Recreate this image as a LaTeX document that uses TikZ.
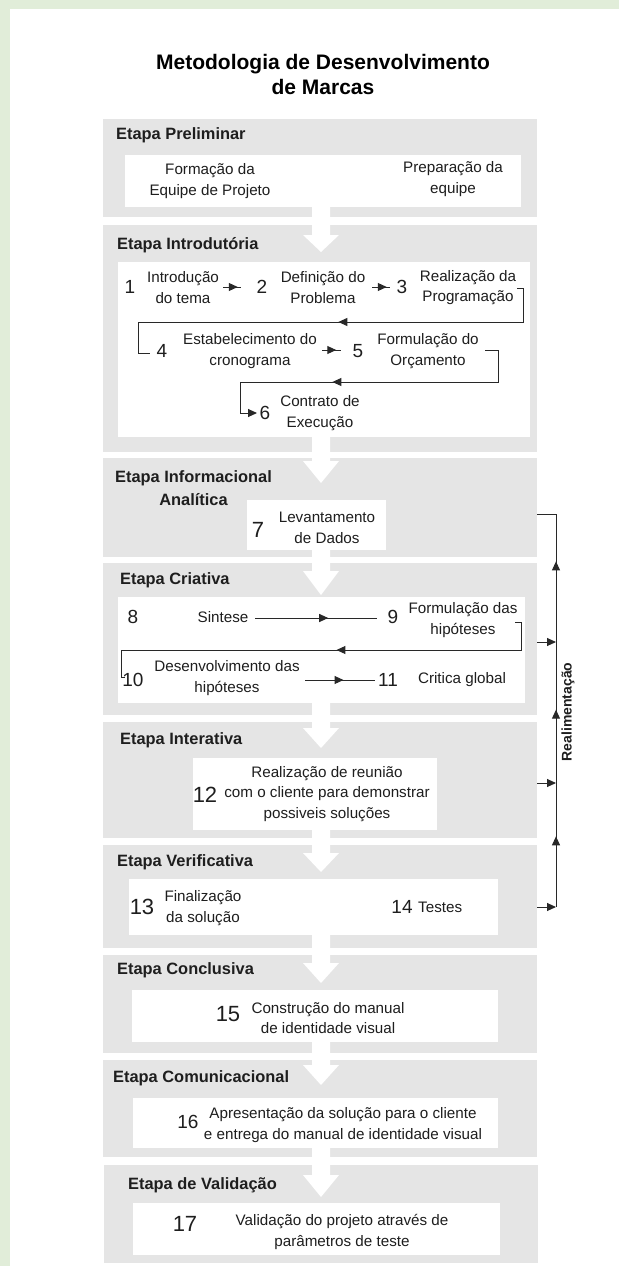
\documentclass[tikz,border=0pt]{standalone}
\usepackage{fontspec}
\setmainfont{Liberation Sans}
\usetikzlibrary{arrows.meta,decorations.markings,fit}
\definecolor{bggreen}{RGB}{225,237,217}
\definecolor{panelgray}{RGB}{229,229,229}
\definecolor{ink}{RGB}{30,30,30}
\definecolor{linec}{RGB}{40,40,40}
\newcommand\bigarrow[3]{\fill[white] (312,#1) -- (330,#1) -- (330,#2) -- (339,#2) -- (321,#3) -- (303,#2) -- (312,#2) -- cycle;}
\begin{document}
\begin{tikzpicture}[x=1pt,y=-1pt,
  panel/.style={fill=panelgray, inner sep=0pt, draw=none},
  wbox/.style={fill=white, inner sep=0pt, draw=none},
  head/.style={font=\fontsize{16.4}{23}\selectfont\bfseries, text=ink, inner sep=0pt},
  body/.style={font=\fontsize{15.2}{20.5}\selectfont, text=ink, align=center, inner sep=0pt},
  num/.style={font=\fontsize{19}{22}\selectfont, text=ink, inner sep=0pt},
  bignum/.style={font=\fontsize{22}{24}\selectfont, text=ink, inner sep=0pt},
  conn/.style={draw=linec, line width=1pt},
  midarrow/.style={postaction={decorate,decoration={markings,mark=at position #1 with {\arrow{Triangle[length=9pt,width=8pt]}}}}},
  endarrow/.style={-{Triangle[length=9pt,width=8pt]}},
]
\useasboundingbox (0,0) rectangle (619,1266);
\fill[bggreen] (0,0) rectangle (619,1266);
\fill[white] (10,9) rectangle (619,1266);

% title
\node[font=\fontsize{21}{25}\selectfont\bfseries, align=center, text=black, inner sep=0pt] (title) at (323,74.5) {Metodologia de Desenvolvimento\\de Marcas};

% panels
\node[panel, fit={(103,119) (537,217)}] (P1) {};
\node[panel, fit={(103,225) (537,452)}] (P2) {};
\node[panel, fit={(103,458) (537,557)}] (P3) {};
\node[panel, fit={(103,563) (537,715)}] (P4) {};
\node[panel, fit={(103,722) (537,838)}] (P5) {};
\node[panel, fit={(103,845) (537,948)}] (P6) {};
\node[panel, fit={(103,955) (537,1053)}] (P7) {};
\node[panel, fit={(103,1060) (537,1157)}] (P8) {};
\node[panel, fit={(104,1165) (538,1263)}] (P9) {};

% white boxes
\node[wbox, fit={(125,155) (521,207)}] (W1) {};
\node[wbox, fit={(118,262) (530,437)}] (W2) {};
\node[wbox, fit={(247,500) (386,550)}] (W3) {};
\node[wbox, fit={(118,597) (525,703)}] (W4) {};
\node[wbox, fit={(193,758) (437,830)}] (W5) {};
\node[wbox, fit={(129,879) (498,935)}] (W6) {};
\node[wbox, fit={(132,990) (498,1042)}] (W7) {};
\node[wbox, fit={(133,1098) (498,1148)}] (W8) {};
\node[wbox, fit={(133,1203) (500,1255)}] (W9) {};

% big white arrows between stages
\bigarrow{206}{235}{252}
\bigarrow{436}{461}{483}
\bigarrow{549}{571}{595}
\bigarrow{702}{728}{748}
\bigarrow{829}{853}{872}
\bigarrow{934}{963}{983}
\bigarrow{1041}{1065}{1085}
\bigarrow{1147}{1175}{1197}

% headings
\node[head, anchor=west] (H1) at (116,135) {Etapa Preliminar};
\node[head, anchor=west] (H2) at (117,245) {Etapa Introdutória};
\node[head, align=center] (H3) at (193.5,488.5) {Etapa Informacional\\Analítica};
\node[head, anchor=west] (H4) at (120,580) {Etapa Criativa};
\node[head, anchor=west] (H5) at (120,740) {Etapa Interativa};
\node[head, anchor=west] (H6) at (117,862) {Etapa Verificativa};
\node[head, anchor=west] (H7) at (117,970) {Etapa Conclusiva};
\node[head, anchor=west] (H8) at (113,1078) {Etapa Comunicacional};
\node[head, anchor=west] (H9) at (128,1185) {Etapa de Validação};

% Preliminar
\node[body] (tA) at (210,181) {Formação da\\Equipe de Projeto};
\node[body] (tB) at (453,179) {Preparação da\\equipe};

% Introdutoria
\node[num] (n1) at (130,287) {1};
\node[body] (t1) at (183,287.5) {Introdução\\do tema};
\node[num] (n2) at (262,287) {2};
\node[body] (t2) at (323,287.5) {Definição do\\Problema};
\node[num] (n3) at (402,287) {3};
\node[body] (t3) at (468,287.5) {Realização da\\Programação};
\node[num] (n4) at (162,351) {4};
\node[body] (t4) at (250,351) {Estabelecimento do\\cronograma};
\node[num] (n5) at (358,351) {5};
\node[body] (t5) at (428,351) {Formulação do\\Orçamento};
\node[num] (n6) at (265,413) {6};
\node[body] (t6) at (320,413) {Contrato de\\Execução};

\coordinate (a12s) at (223,287); \coordinate (a12e) at (241,287);
\coordinate (a23s) at (372,287); \coordinate (a23e) at (390,287);
\coordinate (a45s) at (322,350); \coordinate (a45e) at (341,350);
\draw[conn, midarrow=0.82] (a12s) -- (a12e);
\draw[conn, midarrow=0.82] (a23s) -- (a23e);
\draw[conn, midarrow=0.75] (a45s) -- (a45e);

\coordinate (b1a) at (517,288); \coordinate (b1b) at (523,288);
\coordinate (b1c) at (523,322); \coordinate (b1d) at (138,322);
\coordinate (b1e) at (138,353); \coordinate (b1f) at (150,353);
\draw[conn, midarrow=0.48] (b1a) -- (b1b) -- (b1c) -- (b1d) -- (b1e) -- (b1f);

\coordinate (b2a) at (485,350); \coordinate (b2b) at (498,350);
\coordinate (b2c) at (498,382); \coordinate (b2d) at (240,382);
\coordinate (b2e) at (240,413); \coordinate (b2f) at (257,413);
\draw[conn, midarrow=0.6, endarrow] (b2a) -- (b2b) -- (b2c) -- (b2d) -- (b2e) -- (b2f);

% Informacional
\node[bignum] (n7) at (258,530) {7};
\node[body] (t7) at (327,528) {Levantamento\\de Dados};

% Criativa
\node[num] (n8) at (133,617) {8};
\node[body] (t8) at (223,617) {Sintese};
\node[num] (n9) at (393,617) {9};
\node[body] (t9) at (463,620) {Formulação das\\hipóteses};
\node[num] (n10) at (133,680) {10};
\node[body] (t10) at (227,678) {Desenvolvimento das\\hipóteses};
\node[num] (n11) at (388,680) {11};
\node[body] (t11) at (462,680) {Critica global};

\coordinate (c1s) at (255,618); \coordinate (c1e) at (377,618);
\draw[conn, midarrow=0.6] (c1s) -- (c1e);
\coordinate (c2s) at (305,680); \coordinate (c2e) at (375,680);
\draw[conn, midarrow=0.55] (c2s) -- (c2e);

\coordinate (b3a) at (515,622); \coordinate (b3b) at (521,622);
\coordinate (b3c) at (521,650); \coordinate (b3d) at (121,650);
\coordinate (b3e) at (121,677); \coordinate (b3f) at (125,677);
\draw[conn, midarrow=0.47] (b3a) -- (b3b) -- (b3c) -- (b3d) -- (b3e) -- (b3f);

% Interativa
\node[bignum] (n12) at (205,795) {12};
\node[body] (t12) at (327,794) {Realização de reunião\\com o cliente para demonstrar\\possiveis soluções};

% Verificativa
\node[bignum] (n13) at (142,907) {13};
\node[body] (t13) at (203,908) {Finalização\\da solução};
\node[num] (n14) at (402,907) {14};
\node[body, anchor=west] (t14) at (418,907) {Testes};

% Conclusiva
\node[bignum] (n15) at (228,1014) {15};
\node[body] (t15) at (328,1018) {Construção do manual\\de identidade visual};

% Comunicacional
\node[num] (n16) at (188,1122) {16};
\node[body] (t16) at (343,1125) {Apresentação da solução para o cliente\\e entrega do manual de identidade visual};

% Validacao
\node[bignum] (n17) at (185,1224) {17};
\node[body] (t17) at (342,1232) {Validação do projeto através de\\parâmetros de teste};

% feedback loop
\coordinate (fbT) at (556,514);
\coordinate (fbA) at (556,642);
\coordinate (fbB) at (556,783);
\coordinate (fbC) at (556,907);
\draw[conn] (fbT) -- (P3.east |- fbT);
\draw[conn, midarrow=0.57] (fbC) -- (fbB);
\draw[conn, midarrow=0.52] (fbB) -- (fbA);
\draw[conn, midarrow=0.63] (fbA) -- (fbT);
\draw[conn, endarrow] (P4.east |- fbA) -- (fbA);
\draw[conn, endarrow] (P5.east |- fbB) -- (fbB);
\draw[conn, endarrow] (P6.east |- fbC) -- (fbC);
\node[font=\fontsize{14}{16}\selectfont\bfseries, text=ink, rotate=90, inner sep=0pt] (fbl) at (568,712) {Realimentação};
\end{tikzpicture}
\end{document}
